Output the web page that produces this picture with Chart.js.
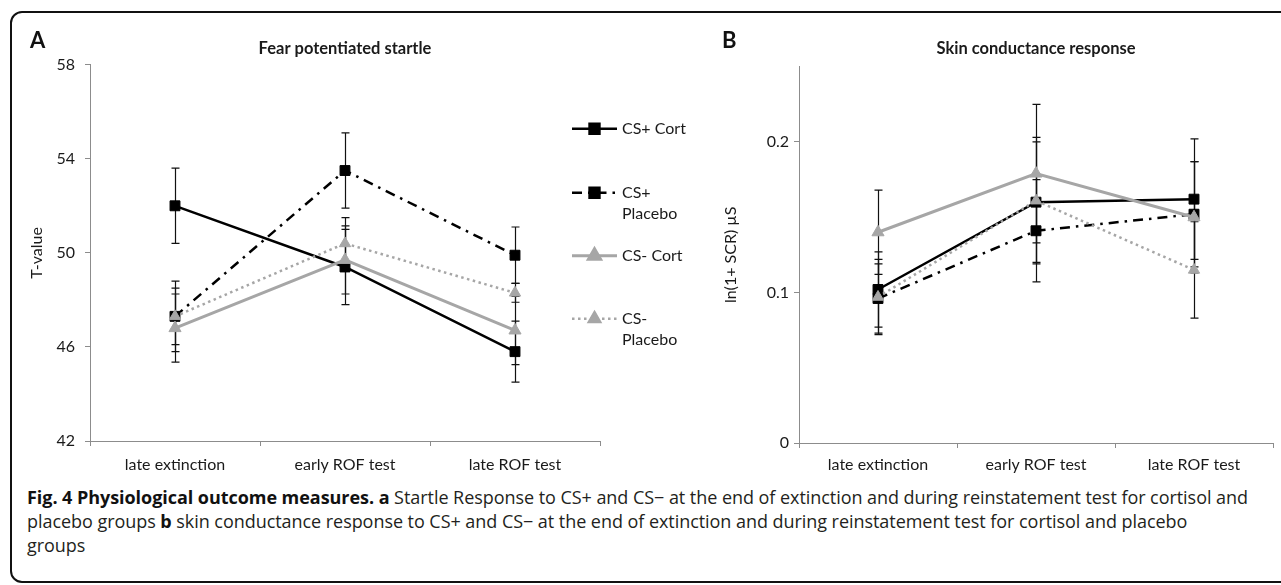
<!DOCTYPE html>
<html>
<head>
<meta charset="utf-8">
<script src="https://cdn.jsdelivr.net/npm/chart.js@4.4.1/dist/chart.umd.min.js"></script>
<style>
  html, body { margin: 0; padding: 0; background: #fff; }
  body { width: 1281px; height: 585px; position: relative; overflow: hidden; font-family: Lato, sans-serif; color: #1a1a1a; }
  .frame { position: absolute; left: 10px; top: 11px; width: 1320px; height: 572px; border: 2.5px solid #111; border-radius: 12px; box-sizing: border-box; }
  canvas { position: absolute; top: 0; }
  #startle { left: 0; }
  #scr { left: 700px; }
  .tag { position: absolute; top: 28px; font: bold 22px Lato, sans-serif; line-height: 24px; color: #111; }
  .caption { position: absolute; left: 27px; top: 485px; font: 18px "Open Sans", sans-serif; line-height: 24px; color: #231f20; white-space: nowrap; letter-spacing: -0.05px; }
  .caption b { font-weight: 700; color: #111; }
</style>
</head>
<body>
<div class="frame"></div>
<canvas id="startle" width="710" height="480"></canvas>
<canvas id="scr" width="581" height="480"></canvas>
<div class="tag" style="left:30px">A</div>
<div class="tag" style="left:722px">B</div>
<div class="caption">
  <b>Fig. 4 Physiological outcome measures.</b> <b>a</b> Startle Response to CS+ and CS− at the end of extinction and during reinstatement test for cortisol and<br>
  placebo groups <b>b</b> skin conductance response to CS+ and CS− at the end of extinction and during reinstatement test for cortisol and placebo<br>
  groups
</div>
<script>
const categories = ["late extinction", "early ROF test", "late ROF test"];

// panel A: fear potentiated startle (T-values), mean and SEM
const startleCsPlusCort = [52.0, 49.4, 45.8];
const startleCsPlusCortErr = [1.6, 1.6, 1.3];
const startleCsPlusPlacebo = [47.3, 53.5, 49.9];
const startleCsPlusPlaceboErr = [1.5, 1.6, 1.2];
const startleCsMinusCort = [46.8, 49.7, 46.7];
const startleCsMinusCortErr = [1.45, 1.45, 1.45];
const startleCsMinusPlacebo = [47.3, 50.4, 48.3];
const startleCsMinusPlaceboErr = [1.2, 1.1, 0.4];
const startleTicks = [42, 46, 50, 54, 58];

// panel B: skin conductance response, ln(1+SCR)
const scrCsPlusCort = [0.102, 0.160, 0.162];
const scrCsPlusCortErr = [0.025, 0.040, 0.040];
const scrCsPlusPlacebo = [0.096, 0.141, 0.152];
const scrCsPlusPlaceboErr = [0.023, 0.034, 0.035];
const scrCsMinusCort = [0.140, 0.179, 0.150];
const scrCsMinusCortErr = [0.028, 0.046, 0.037];
const scrCsMinusPlacebo = [0.097, 0.161, 0.115];
const scrCsMinusPlaceboErr = [0.025, 0.042, 0.032];
const scrTicks = [0, 0.1, 0.2];

const legendLabels = [["CS+ Cort"], ["CS+", "Placebo"], ["CS- Cort"], ["CS-", "Placebo"]];
const legendRowOffsets = [64, 128, 191, 254];

const BLACK = "#000000";
const GREY = "#a6a6a6";
const AXIS = "#8c8c8c";
const TEXT = "#1a1a1a";

function seriesStyles() {
  return [
    { label: "CS+ Cort", borderColor: BLACK, borderWidth: 2.5, borderDash: [], pointStyle: "rect", pointRadius: 7, color: BLACK },
    { label: "CS+ Placebo", borderColor: BLACK, borderWidth: 2.5, borderDash: [10, 6, 2.5, 6], pointStyle: "rect", pointRadius: 7, color: BLACK },
    { label: "CS- Cort", borderColor: GREY, borderWidth: 3, borderDash: [], pointStyle: "triangle", pointRadius: 7, color: GREY },
    { label: "CS- Placebo", borderColor: GREY, borderWidth: 2.5, borderDash: [2.5, 3.5], pointStyle: "triangle", pointRadius: 6.5, color: GREY }
  ];
}

function buildDatasets(values, errors) {
  return seriesStyles().map((style, index) => ({
    label: style.label,
    data: values[index],
    errors: errors[index],
    borderColor: style.borderColor,
    borderWidth: style.borderWidth,
    borderDash: style.borderDash,
    pointStyle: style.pointStyle,
    pointRadius: style.pointRadius,
    pointHoverRadius: style.pointRadius,
    pointBackgroundColor: style.color,
    pointBorderColor: style.color,
    pointBorderWidth: 1,
    tension: 0,
    fill: false,
    order: 3 - index
  }));
}

const errorBars = {
  id: "errorBars",
  beforeDatasetsDraw(chart) {
    const { ctx } = chart;
    const y = chart.scales.y;
    ctx.save();
    ctx.strokeStyle = "#111";
    ctx.lineWidth = 1.2;
    chart.data.datasets.forEach((ds, i) => {
      chart.getDatasetMeta(i).data.forEach((pt, j) => {
        const hi = y.getPixelForValue(ds.data[j] + ds.errors[j]);
        const lo = y.getPixelForValue(ds.data[j] - ds.errors[j]);
        const x = Math.round(pt.x) + 0.5;
        ctx.beginPath();
        ctx.moveTo(x, hi);
        ctx.lineTo(x, lo);
        ctx.moveTo(x - 4, hi);
        ctx.lineTo(x + 4, hi);
        ctx.moveTo(x - 4, lo);
        ctx.lineTo(x + 4, lo);
        ctx.stroke();
      });
    });
    ctx.restore();
  }
};

const sideLegend = {
  id: "sideLegend",
  afterDraw(chart) {
    const { ctx, chartArea } = chart;
    const x0 = chartArea.right - 28;
    const x1 = x0 + 45;
    chart.data.datasets.forEach((ds, i) => {
      const y = chartArea.top + legendRowOffsets[i];
      ctx.save();
      ctx.strokeStyle = ds.borderColor;
      ctx.lineWidth = ds.borderWidth;
      ctx.setLineDash(ds.borderDash);
      ctx.beginPath();
      ctx.moveTo(x0, y);
      ctx.lineTo(x1, y);
      ctx.stroke();
      ctx.setLineDash([]);
      ctx.fillStyle = ds.pointBackgroundColor;
      ctx.strokeStyle = ds.pointBorderColor;
      Chart.helpers.drawPoint(ctx, { pointStyle: ds.pointStyle, radius: ds.pointRadius, rotation: 0, borderWidth: 1 }, (x0 + x1) / 2, y);
      ctx.fillStyle = TEXT;
      ctx.font = "16px Lato, sans-serif";
      ctx.textBaseline = "middle";
      ctx.textAlign = "left";
      legendLabels[i].forEach((line, k) => ctx.fillText(line, x1 + 5, y + k * 21));
      ctx.restore();
    });
  }
};

function buildOptions(p) {
  return {
    responsive: false,
    animation: false,
    events: [],
    layout: { padding: { top: 0, left: 0, right: p.padRight, bottom: 0 } },
    plugins: {
      legend: { display: false },
      tooltip: { enabled: false },
      title: {
        display: true,
        text: p.title,
        fullSize: false,
        color: TEXT,
        font: { family: "Lato, sans-serif", size: 16.5, weight: "bold", lineHeight: 1.2 },
        padding: { top: 39.1, bottom: p.titleBottom }
      }
    },
    scales: {
      x: {
        type: "category",
        offset: true,
        afterFit: (scale) => { scale.height = p.xHeight; },
        border: { display: true, color: AXIS, width: 1 },
        grid: { offset: true, drawOnChartArea: false, drawTicks: true, tickLength: 5, tickColor: AXIS },
        ticks: { color: TEXT, padding: p.xPad, maxRotation: 0, autoSkip: false, font: { family: "Lato, sans-serif", size: 16 } }
      },
      y: {
        min: p.min,
        max: p.max,
        afterFit: (scale) => { scale.width = p.yWidth; },
        afterBuildTicks: (scale) => { scale.ticks = p.ticks.map((v) => ({ value: v })); },
        border: { display: true, color: AXIS, width: 1 },
        grid: { drawOnChartArea: false, drawTicks: true, tickLength: 5, tickColor: AXIS },
        ticks: { color: TEXT, padding: p.yPad, font: { family: "Lato, sans-serif", size: 16 } },
        title: {
          display: true,
          text: p.yTitle,
          color: TEXT,
          font: { family: "Lato, sans-serif", size: 16, lineHeight: 1.2 },
          padding: { top: p.yTitlePad, bottom: 0 }
        }
      }
    }
  };
}

new Chart(document.getElementById("startle"), {
  type: "line",
  data: {
    labels: categories,
    datasets: buildDatasets(
      [startleCsPlusCort, startleCsPlusPlacebo, startleCsMinusCort, startleCsMinusPlacebo],
      [startleCsPlusCortErr, startleCsPlusPlaceboErr, startleCsMinusCortErr, startleCsMinusPlaceboErr]
    )
  },
  options: buildOptions({
    title: "Fear potentiated startle", titleBottom: 5.8, padRight: 110,
    xHeight: 39, xPad: 9, yWidth: 90, yPad: 10, yTitlePad: 27.4,
    yTitle: "T-value", min: 42, max: 58, ticks: startleTicks
  }),
  plugins: [errorBars, sideLegend]
});

new Chart(document.getElementById("scr"), {
  type: "line",
  data: {
    labels: categories,
    datasets: buildDatasets(
      [scrCsPlusCort, scrCsPlusPlacebo, scrCsMinusCort, scrCsMinusPlacebo],
      [scrCsPlusCortErr, scrCsPlusPlaceboErr, scrCsMinusCortErr, scrCsMinusPlaceboErr]
    )
  },
  options: buildOptions({
    title: "Skin conductance response", titleBottom: 7.8, padRight: 7,
    xHeight: 37, xPad: 7, yWidth: 99, yPad: 5, yTitlePad: 21.4,
    yTitle: "ln(1+ SCR) µS", min: 0, max: 0.25, ticks: scrTicks
  }),
  plugins: [errorBars]
});
</script>
</body>
</html>
